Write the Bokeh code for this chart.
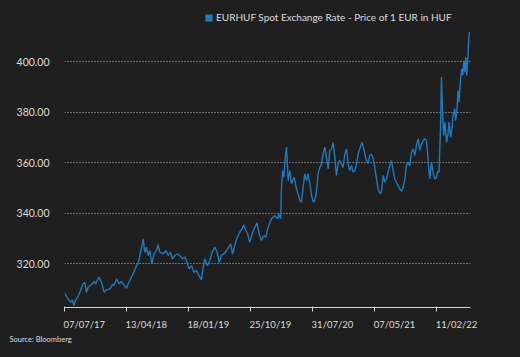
import datetime as dt
from bokeh.plotting import figure
from bokeh.models import (Range1d, FixedTicker, NumeralTickFormatter,
                          Legend, LegendItem, Title, ColumnDataSource, DatetimeAxis)
from bokeh.embed import file_html
from bokeh.resources import INLINE

# ---- data ----
start_date = "2017-07-07"
day_offset = [0, 16, 29, 36, 42, 51, 61, 72, 84, 92, 99, 107, 122, 134, 141, 155, 167, 179, 190, 205,
              217, 224, 235, 246, 257, 268, 280, 290, 302, 313, 325, 332, 340, 348, 355, 362, 370, 377, 385, 394,
              404, 415, 422, 430, 445, 457, 468, 478, 487, 498, 508, 520, 533, 543, 553, 562, 573, 584, 596, 607,
              618, 626, 633, 644, 656, 666, 678, 689, 698, 708, 719, 731, 741, 750, 758, 768, 779, 791, 801, 809,
              818, 826, 836, 847, 859, 869, 878, 889, 899, 908, 919, 926, 934, 949, 961, 967, 975, 979, 984, 990,
              997, 1002, 1009, 1017, 1024, 1036, 1047, 1054, 1062, 1069, 1077, 1084, 1092, 1099, 1107, 1115, 1122, 1129, 1137, 1144,
              1152, 1160, 1167, 1175, 1182, 1190, 1197, 1205, 1212, 1220, 1227, 1235, 1242, 1250, 1257, 1265, 1273, 1280, 1287, 1295,
              1302, 1310, 1318, 1325, 1332, 1343, 1352, 1360, 1370, 1377, 1385, 1393, 1400, 1408, 1415, 1423, 1430, 1438, 1445, 1453,
              1460, 1468, 1476, 1483, 1490, 1498, 1505, 1513, 1521, 1528, 1536, 1543, 1550, 1558, 1566, 1573, 1581, 1588, 1596, 1603,
              1611, 1618, 1626, 1633, 1638, 1644, 1648, 1656, 1663, 1671, 1678, 1686, 1690, 1697, 1701, 1706, 1711, 1717, 1724, 1731,
              1735, 1743, 1749, 1753, 1761, 1765, 1771, 1776, 1780, 1787, 1793, 1797, 1802, 1806, 1811, 1815, 1820, 1824, 1827]
eurhuf = [308.2, 306.0, 304.7, 305.6, 303.4, 305.7, 306.9, 309.3, 312.0, 312.5, 308.6, 310.6, 311.7, 312.9, 312.0, 314.6, 312.6, 308.6, 309.6, 310.0,
          311.7, 311.3, 314.0, 312.0, 312.9, 311.6, 310.2, 312.6, 314.6, 316.6, 319.2, 319.9, 323.2, 326.5, 329.8, 324.5, 326.5, 323.2, 325.1, 319.9,
          323.8, 325.1, 327.5, 324.5, 323.8, 325.1, 323.2, 324.5, 321.9, 323.2, 323.8, 323.2, 321.9, 322.6, 320.5, 317.9, 319.2, 316.6, 317.2, 315.2,
          313.5, 318.5, 321.9, 319.2, 321.2, 324.5, 326.5, 324.5, 320.5, 323.2, 323.8, 325.1, 326.5, 327.8, 323.8, 327.1, 330.4, 332.4, 333.7, 335.3,
          333.1, 331.8, 328.4, 331.8, 334.4, 336.1, 331.8, 329.1, 331.1, 330.4, 334.4, 336.1, 337.7, 339.0, 337.7, 339.7, 337.7, 349.6, 356.8, 354.2,
          362.8, 366.1, 352.9, 356.8, 351.6, 354.2, 349.6, 347.6, 345.0, 344.3, 350.2, 355.5, 352.9, 355.5, 351.6, 346.9, 344.3, 345.0, 348.3, 355.5,
          358.1, 359.5, 363.4, 366.1, 362.1, 357.5, 364.8, 365.4, 368.0, 362.1, 354.9, 359.5, 360.8, 359.5, 358.1, 363.4, 365.4, 359.5, 356.8, 358.8,
          356.2, 356.8, 359.5, 363.4, 365.4, 368.0, 364.8, 361.5, 359.5, 362.8, 363.4, 361.5, 358.1, 353.5, 349.6, 347.6, 348.3, 354.9, 352.2, 353.5,
          356.2, 358.8, 360.8, 356.8, 353.5, 352.2, 350.9, 349.6, 348.6, 350.2, 353.5, 358.8, 360.1, 358.8, 364.1, 365.4, 362.8, 366.7, 369.4, 364.8,
          367.4, 368.7, 369.4, 368.7, 364.1, 357.5, 353.5, 360.1, 356.2, 353.5, 354.2, 356.8, 356.2, 374.7, 393.8, 379.9, 370.7, 376.0, 368.0, 371.4,
          376.0, 370.0, 374.0, 378.6, 381.3, 376.6, 381.3, 388.5, 383.9, 393.1, 397.1, 394.5, 400.4, 395.8, 401.7, 394.5, 401.1, 409.0, 411.6]
x_tick_labels = ["07/07/17", "13/04/18", "18/01/19", "25/10/19", "31/07/20", "07/05/21", "11/02/22"]
y_ticks = [320, 340, 360, 380, 400]
series_name = "EURHUF Spot Exchange Rate - Price of 1 EUR in HUF"
source_note = "Source: Bloomberg"

# ---- build ----
t0 = dt.datetime.strptime(start_date, "%Y-%m-%d")
dates = [t0 + dt.timedelta(days=d) for d in day_offset]
epoch = dt.datetime(1970, 1, 1)
tick_dates = [dt.datetime.strptime(s, "%d/%m/%y") for s in x_tick_labels]
tick_ms = [(d - epoch).total_seconds() * 1000 for d in tick_dates]
# labels start at their tick (left aligned): label anchors sit half a label width to the right
LABEL_SHIFT_MS = 89 * 86400000.0
label_ms = [t + LABEL_SHIFT_MS for t in tick_ms]

BG = "#1f1f1f"
BLUE = "#1e7abf"
TXT = "#dcdcdc"
AX = "#cfcfcf"
FONT = "Lato"

p = figure(width=520, height=357, output_backend="svg", toolbar_location=None,
           x_axis_type=None,
           x_range=Range1d(t0, t0 + dt.timedelta(days=1832)),
           y_range=Range1d(302.6, 422.2),
           min_border_left=64, min_border_right=50, min_border_top=5, min_border_bottom=50)
p.styles = {"background-color": BG}
p.background_fill_color = BG
p.border_fill_color = None
p.outline_line_color = None

src = ColumnDataSource(dict(x=dates, y=eurhuf))
p.line("x", "y", source=src, line_color=BLUE, line_width=1.4)

# legend (square swatch)
swatch = p.quad(left="x", right="x", top="y", bottom="y", source=src,
                fill_color=BLUE, line_color=None, visible=False)
legend = Legend(items=[LegendItem(label=series_name, renderers=[swatch])],
                location=(140, 284), orientation="horizontal",
                glyph_width=9, glyph_height=9, label_standoff=3, label_height=9,
                padding=0, margin=0, spacing=0,
                background_fill_alpha=0, border_line_alpha=0,
                label_text_color=TXT, label_text_font=FONT, label_text_font_size="10px")
p.add_layout(legend, "center")

# x axis: tick marks (minor ticks) at the real dates, labels left-aligned on them
xa = DatetimeAxis(ticker=FixedTicker(ticks=label_ms, minor_ticks=tick_ms),
                  major_label_overrides={m: s for m, s in zip(label_ms, x_tick_labels)})
xa.axis_line_color = AX
xa.major_tick_line_color = None
xa.major_tick_in = 0
xa.major_tick_out = 0
xa.minor_tick_line_color = AX
xa.minor_tick_in = 1
xa.minor_tick_out = 4
xa.major_label_text_color = TXT
xa.major_label_text_font = FONT
xa.major_label_text_font_size = "9.5px"
xa.major_label_standoff = 7
p.add_layout(xa, "below")

# y axis
ya = p.yaxis[0]
ya.ticker = FixedTicker(ticks=y_ticks)
ya.formatter = NumeralTickFormatter(format="0.00")
ya.axis_line_color = None
ya.major_tick_line_color = None
ya.minor_tick_line_color = None
ya.major_label_text_color = TXT
ya.major_label_text_font = FONT
ya.major_label_text_font_size = "10.5px"
ya.major_label_standoff = 9

p.ygrid.grid_line_color = "#bdbdbd"
p.ygrid.grid_line_dash = "1 2"
p.ygrid.grid_line_width = 1

note = Title(text=source_note, align="left", offset=-55, standoff=0, text_color=TXT,
             text_font=FONT, text_font_size="7.5px", text_font_style="normal")
p.add_layout(note, "below")

open("out.html", "w").write(file_html(p, INLINE))
